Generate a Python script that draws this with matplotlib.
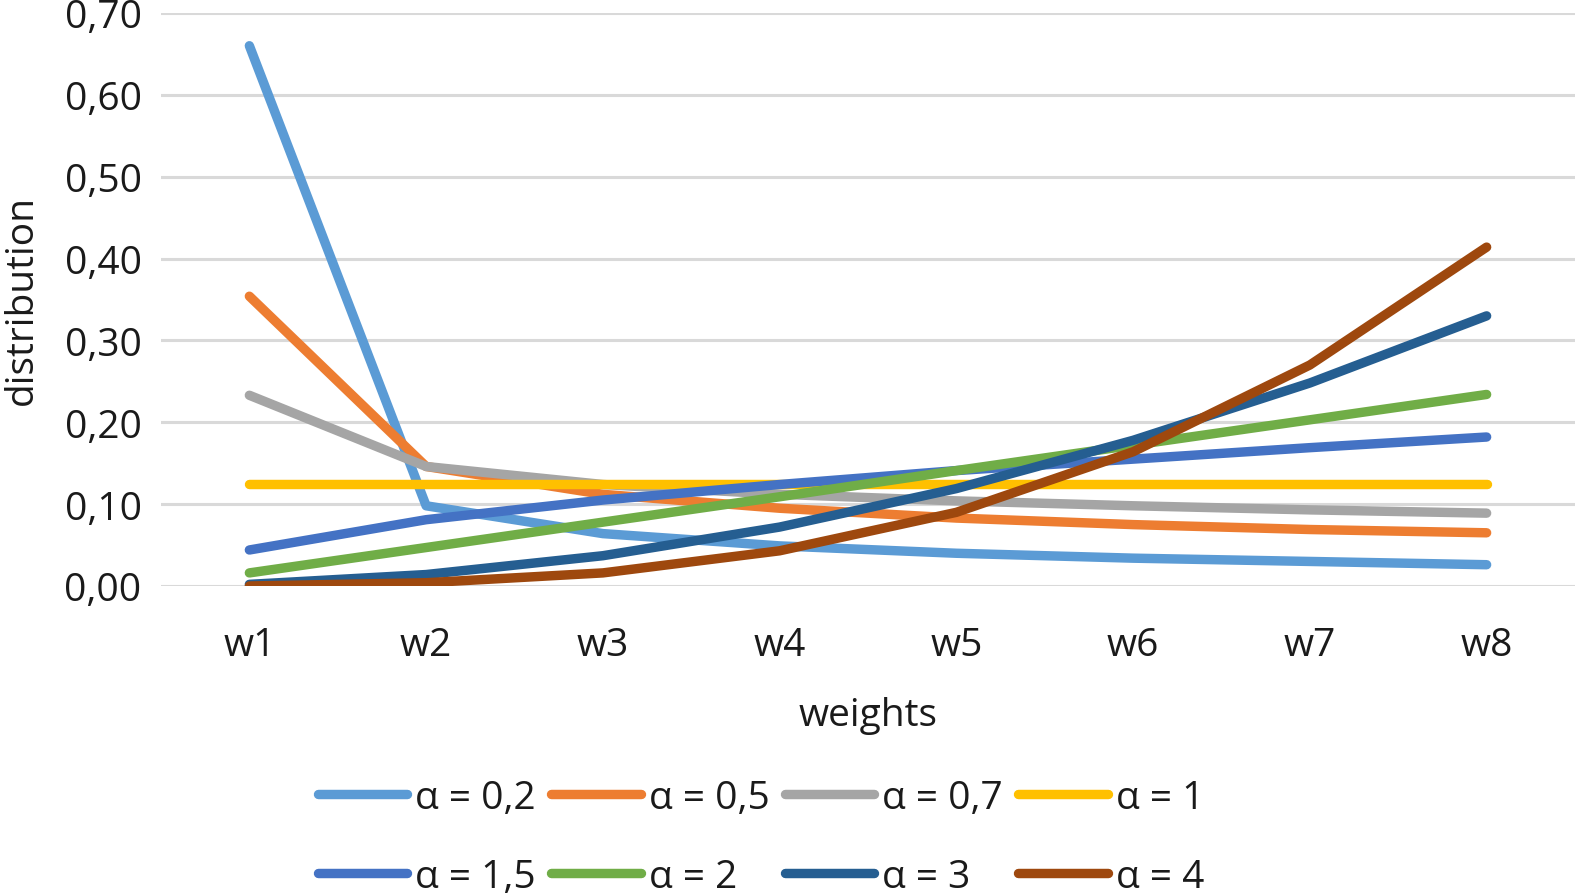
import matplotlib
matplotlib.use("Agg")
import matplotlib.pyplot as plt

# weights w1..w8 for each alpha
categories = ["w1", "w2", "w3", "w4", "w5", "w6", "w7", "w8"]
labels = ["α = 0,2", "α = 0,5", "α = 0,7", "α = 1",
          "α = 1,5", "α = 2", "α = 3", "α = 4"]
a02 = [0.660, 0.098, 0.064, 0.049, 0.040, 0.034, 0.030, 0.026]
a05 = [0.354, 0.146, 0.112, 0.095, 0.083, 0.075, 0.069, 0.065]
a07 = [0.233, 0.146, 0.124, 0.112, 0.104, 0.098, 0.093, 0.089]
a1 = [0.125, 0.125, 0.125, 0.125, 0.125, 0.125, 0.125, 0.125]
a15 = [0.044, 0.081, 0.105, 0.124, 0.141, 0.155, 0.169, 0.182]
a2 = [0.016, 0.047, 0.078, 0.109, 0.141, 0.172, 0.203, 0.234]
a3 = [0.002, 0.014, 0.037, 0.072, 0.119, 0.178, 0.248, 0.330]
a4 = [0.000, 0.004, 0.016, 0.043, 0.090, 0.164, 0.270, 0.414]
yticks = [0.0, 0.1, 0.2, 0.3, 0.4, 0.5, 0.6, 0.7]

series = [a02, a05, a07, a1, a15, a2, a3, a4]
colors = ['#5B9BD5', '#ED7D31', '#A5A5A5', '#FFC000',
          '#4472C4', '#70AD47', '#255E91', '#9E480E']

plt.rcParams['font.family'] = ['Open Sans', 'DejaVu Sans']
txt = '#1a1a1a'
fs = 28

fig = plt.figure(figsize=(15.78, 8.95), dpi=100)
W, H = 1578, 895
ax = fig.add_axes([161 / W, 1 - 587 / H, (1575 - 161) / W, (587 - 14) / H])

x = list(range(len(categories)))
handles = []
for vals, lab, c in zip(series, labels, colors):
    ln, = ax.plot(x, vals, color=c, linewidth=6.8, label=lab,
                  solid_capstyle='round', solid_joinstyle='round')
    handles.append(ln)

ax.set_xlim(-0.5, 7.5)
ax.set_ylim(0, 0.7)
ax.set_yticks(yticks)
ax.set_yticklabels([f"{v:.2f}".replace('.', ',') for v in yticks])
ax.set_xticks(x)
ax.set_xticklabels(categories)
ax.tick_params(axis='both', length=0, labelsize=fs, labelcolor=txt)
ax.tick_params(axis='y', pad=14)
ax.tick_params(axis='x', pad=29)

ax.grid(True, axis='y', color='#D9D9D9', linewidth=2.2)
ax.set_axisbelow(True)
for s in ax.spines.values():
    s.set_visible(False)

ax.set_xlabel("weights", fontsize=fs, color=txt)
ax.xaxis.set_label_coords(0.5, -0.226)
ax.xaxis.label.set_va('center')
ax.set_ylabel("distribution", fontsize=fs, color=txt)
ax.yaxis.set_label_coords(-0.0985, 0.5)
ax.yaxis.label.set_va('center')

# legend fills row by row, like the original
order = [0, 4, 1, 5, 2, 6, 3, 7]
leg = fig.legend([handles[i] for i in order], [labels[i] for i in order],
                 loc='upper left', bbox_to_anchor=(318 / W, 1 - 780 / H),
                 ncol=4, frameon=False, fontsize=fs, handlelength=2.3,
                 handletextpad=0.2, columnspacing=0.4, labelspacing=1.05,
                 borderaxespad=0, borderpad=0)
for t in leg.get_texts():
    t.set_color(txt)

plt.savefig("out.png", dpi=100, facecolor='white')
plt.close()
